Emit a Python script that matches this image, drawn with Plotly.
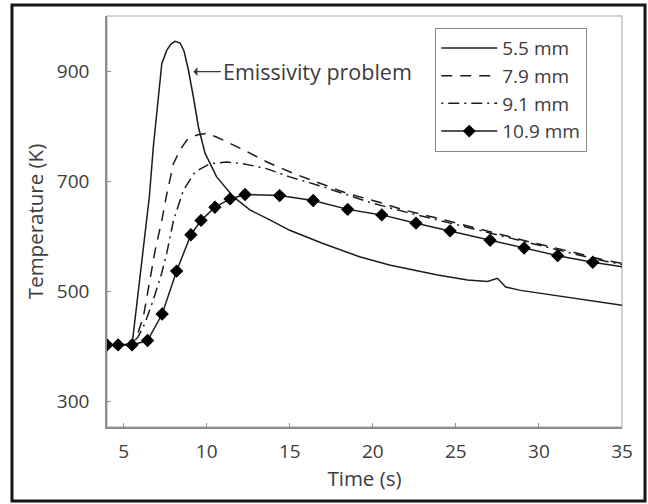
import plotly.graph_objects as go

# Time (s) and temperature (K) for each specimen thickness
t_55 = [4.0, 5.0, 5.4, 5.53, 6.19, 6.39, 6.55, 6.79, 7.09, 7.3, 7.6, 7.85, 8.1, 8.4, 8.64, 8.9, 9.2, 9.5, 9.9,
        10.6, 11.6, 12.6, 13.8, 15.0, 17.0, 19.2, 21.0, 23.9, 25.7, 26.9, 27.5, 28.0, 28.9, 30.9, 32.9, 35.0]
T_55 = [403, 403, 404, 409, 575, 625, 672, 763, 853, 914, 938, 949, 954, 951, 936, 902, 853, 799, 751,
        708, 672, 648, 630, 611, 587, 563, 548, 530, 521, 518, 524, 508, 502, 493, 484, 475]

t_79 = [4.0, 5.0, 5.5, 5.79, 6.19, 6.59, 6.9, 7.3, 7.6, 8.0, 8.4, 8.81, 9.41, 10.01, 10.62, 12.22, 13.63,
        15.24, 16.85, 18.46, 20.27, 21.87, 23.89, 25.7, 27.7, 29.7, 31.7, 33.8, 35.0]
T_79 = [403, 403, 405, 418, 454, 520, 575, 629, 677, 732, 757, 775, 784, 787, 780, 757, 735,
        714, 696, 678, 663, 648, 633, 619, 603, 588, 574, 558, 551]

t_91 = [4.0, 5.0, 5.5, 5.88, 6.28, 6.78, 7.29, 7.6, 8.0, 8.6, 9.3, 10.2, 11.2, 12.2, 13.6, 15.0, 17.0,
        20.0, 22.0, 24.0, 26.0, 28.0, 30.0, 32.0, 34.0, 35.0]
T_91 = [403, 403, 405, 418, 442, 484, 533, 570, 629, 684, 717, 732, 735, 732, 723, 708, 690,
        660, 644, 629, 613, 598, 583, 569, 555, 549]

t_109 = [4.0, 4.67, 5.51, 6.44, 7.32, 8.19, 9.05, 9.66, 10.5, 11.41, 12.31, 14.39, 16.41, 18.49, 20.54,
         22.6, 24.65, 27.06, 29.11, 31.13, 33.24, 35.0]
T_109 = [403, 403, 403, 411, 459, 537, 603, 629, 653, 668, 676, 674, 665, 649, 639,
         624, 610, 593, 579, 565, 553, 545]

series_names = ["5.5 mm", "7.9 mm", "9.1 mm", "10.9 mm"]
x_ticks = [5, 10, 15, 20, 25, 30, 35]
y_ticks = [300, 500, 700, 900]

INK = "#1c1c1c"
TEXT = "#3c3c3c"
FONT = "Open Sans"

fig = go.Figure()
fig.add_trace(go.Scatter(x=t_55, y=T_55, mode="lines", name=series_names[0],
                         line=dict(color=INK, width=1.5)))
fig.add_trace(go.Scatter(x=t_79, y=T_79, mode="lines", name=series_names[1],
                         line=dict(color=INK, width=1.5, dash="11px,8px")))
fig.add_trace(go.Scatter(x=t_91, y=T_91, mode="lines", name=series_names[2],
                         line=dict(color=INK, width=1.5, dash="2px,5px,11px,5px")))
# the last sample carries no marker
marker_sizes = [9] * (len(t_109) - 1) + [0]
fig.add_trace(go.Scatter(x=t_109, y=T_109, mode="lines+markers", name=series_names[3],
                         line=dict(color=INK, width=1.5),
                         marker=dict(symbol="diamond", size=marker_sizes, color="#000000", opacity=1,
                                     line=dict(color="#000000", width=1.2))))

axis_common = dict(
    showgrid=False, zeroline=False, showline=True, linecolor="#8e8e8e", linewidth=1.5,
    ticks="inside", ticklen=4, tickcolor="#8e8e8e", tickwidth=1.2,
    tickfont=dict(family=FONT, size=19, color=TEXT),
)

fig.update_xaxes(range=[4, 35], tickvals=x_ticks, ticklabelstandoff=6,
                 title=dict(text="Time (s)", font=dict(family=FONT, size=20.5, color=TEXT), standoff=8),
                 **axis_common)
fig.update_yaxes(range=[254, 1000], tickvals=y_ticks, ticklabelstandoff=12,
                 title=dict(text="Temperature (K)", font=dict(family=FONT, size=20.5, color=TEXT), standoff=8),
                 **axis_common)

fig.update_layout(
    width=648, height=504,
    margin=dict(l=107, r=26, t=16, b=77),
    paper_bgcolor="white", plot_bgcolor="white",
    font=dict(family=FONT, color=TEXT),
    legend=dict(x=0.637, y=0.971, xanchor="left", yanchor="top", itemwidth=56, entrywidth=96,
                bordercolor="#8a8a8a", borderwidth=1.2, bgcolor="white",
                font=dict(family=FONT, size=19, color=TEXT)),
    shapes=[
        # light frame around the plotting area
        dict(type="rect", xref="paper", yref="paper", x0=0, x1=1, y0=0, y1=1,
             line=dict(color="#c4c4c4", width=1.5), layer="below"),
        # heavy outer border
        dict(type="rect", xref="paper", yref="paper", x0=-0.1845, x1=1.0447, y0=-0.18, y1=1.0268,
             line=dict(color="#161616", width=3)),
    ],
    annotations=[
        dict(x=9.19, y=899, xref="x", yref="y", ax=10.85, ay=899, axref="x", ayref="y",
             text="Emissivity problem", xanchor="left", yanchor="middle", showarrow=True,
             arrowhead=1, arrowsize=1.1, arrowwidth=1.3, arrowcolor=TEXT, standoff=0,
             font=dict(family=FONT, size=21.5, color=TEXT)),
    ],
)

fig.write_html("out.html")
